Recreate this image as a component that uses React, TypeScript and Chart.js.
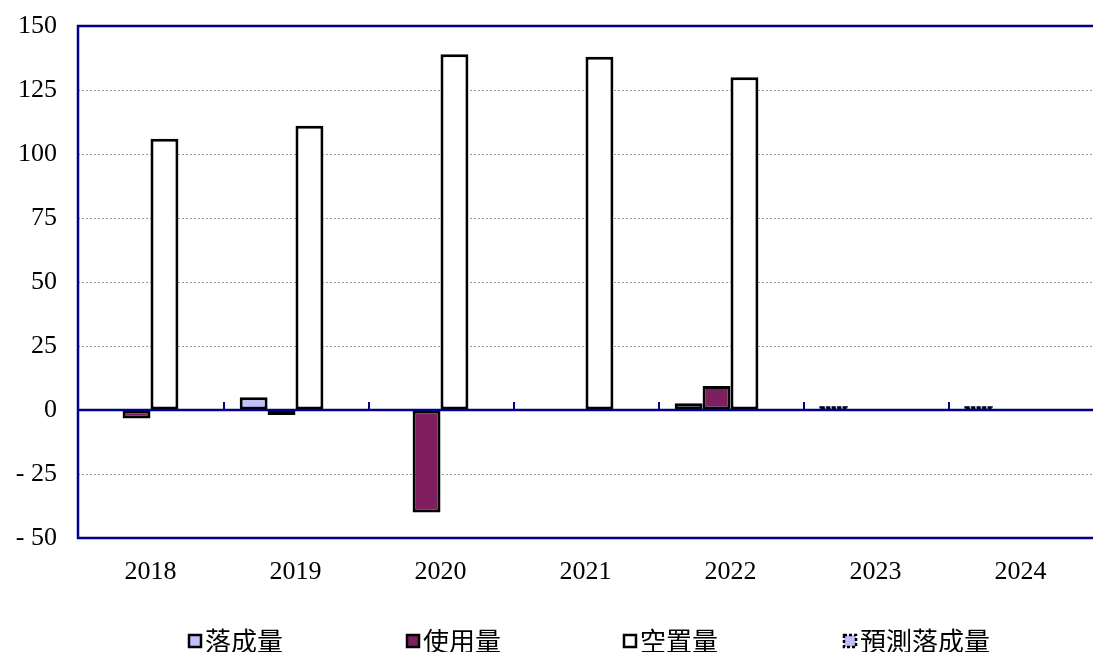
import React, { useEffect, useRef } from 'react';
import { Chart, registerables } from 'chart.js';

Chart.register(...registerables);

const categories = ['2018', '2019', '2020', '2021', '2022', '2023', '2024'];
const completions = [null, 5, null, null, 2.6, null, null];
const absorption = [-3.3, -2, -40, null, 9.4, null, null];
const vacancy = [106, 111, 139, 138, 130, null, null];
const forecastCompletions = [null, null, null, null, null, 1.4, 1.4];
const seriesNames = ['落成量', '使用量', '空置量', '預測落成量'];
const yMin = -50;
const yMax = 150;
const yStep = 25;

const NAVY = '#000088';
const LAVENDER = '#C0C0FF';
const PLUM = '#7F1F5F';
const SERIF = '"Liberation Serif", "Times New Roman", serif';
const CJK = '"Noto Sans CJK TC", "Noto Sans CJK SC", sans-serif';

const axesPlugin = {
  id: 'axesPlugin',
  afterDatasetsDraw(chart: any) {
    const { ctx, chartArea } = chart;
    const x = chart.scales.x;
    const y = chart.scales.y;
    const zeroY = y.getPixelForValue(0);
    ctx.save();
    // dashed outline for forecast bars
    const meta = chart.getDatasetMeta(3);
    ctx.strokeStyle = '#000';
    ctx.lineWidth = 2.5;
    ctx.setLineDash([4, 1.5]);
    meta.data.forEach((el: any, i: number) => {
      if (forecastCompletions[i] == null) return;
      const left = el.x - el.width / 2;
      const top = Math.min(el.y, el.base);
      const h = Math.abs(el.base - el.y);
      ctx.strokeRect(left + 1, top + 1, el.width - 2, Math.max(h - 1, 1));
    });
    ctx.setLineDash([]);
    ctx.strokeStyle = NAVY;
    ctx.lineWidth = 2.5;
    ctx.beginPath();
    ctx.moveTo(chartArea.left, zeroY);
    ctx.lineTo(chartArea.right, zeroY);
    ctx.moveTo(chartArea.left, chartArea.top);
    ctx.lineTo(chartArea.right, chartArea.top);
    ctx.moveTo(chartArea.left, chartArea.bottom);
    ctx.lineTo(chartArea.right, chartArea.bottom);
    ctx.moveTo(chartArea.left, chartArea.top - 1.25);
    ctx.lineTo(chartArea.left, chartArea.bottom + 1.25);
    ctx.stroke();
    ctx.lineWidth = 2;
    ctx.beginPath();
    for (let i = 1; i < categories.length; i++) {
      const bx = Math.round((x.getPixelForValue(i - 1) + x.getPixelForValue(i)) / 2) + 1;
      ctx.moveTo(bx, zeroY - 8);
      ctx.lineTo(bx, zeroY);
    }
    ctx.stroke();
    ctx.restore();
  },
};

const legendPlugin = {
  id: 'customLegend',
  afterDraw(chart: any) {
    const { ctx } = chart;
    const starts = [189, 407, 624, 844];
    const fills = [LAVENDER, PLUM, '#FFFFFF', LAVENDER];
    const cy = 641;
    ctx.save();
    ctx.font = `26px ${CJK}`;
    ctx.textBaseline = 'middle';
    ctx.fillStyle = '#000';
    seriesNames.forEach((name, i) => {
      const bx = starts[i];
      const size = 12;
      ctx.fillStyle = fills[i];
      ctx.fillRect(bx, cy - size / 2, size, size);
      ctx.strokeStyle = '#000';
      ctx.lineWidth = 2.5;
      ctx.setLineDash(i === 3 ? [3, 2] : []);
      ctx.strokeRect(bx, cy - size / 2, size, size);
      ctx.setLineDash([]);
      ctx.fillStyle = '#000';
      ctx.fillText(name, bx + size + 4, cy);
    });
    ctx.restore();
  },
};

export default function App() {
  const canvasRef = useRef<HTMLCanvasElement>(null);

  useEffect(() => {
    if (!canvasRef.current) return;
    const barCommon = {
      borderColor: '#000000',
      borderWidth: 3,
      borderSkipped: false as any,
      barPercentage: 1,
      categoryPercentage: 0.77,
    };
    const chart = new Chart(canvasRef.current, {
      type: 'bar',
      data: {
        labels: categories,
        datasets: [
          { label: seriesNames[0], data: completions, backgroundColor: LAVENDER, stack: 'a', ...barCommon },
          { label: seriesNames[1], data: absorption, backgroundColor: PLUM, stack: 'b', ...barCommon },
          { label: seriesNames[2], data: vacancy, backgroundColor: '#FFFFFF', stack: 'c', ...barCommon },
          { label: seriesNames[3], data: forecastCompletions, backgroundColor: LAVENDER, stack: 'a', ...barCommon, borderWidth: 0 },
          { label: '', data: categories.map(() => null), backgroundColor: 'transparent', stack: 'd', ...barCommon },
        ],
      },
      options: {
        animation: false,
        responsive: true,
        maintainAspectRatio: false,
        layout: { padding: { top: 26, left: 0, right: 0, bottom: 0 } },
        plugins: {
          legend: { display: false },
          tooltip: { enabled: false },
          title: { display: false },
        },
        scales: {
          x: {
            stacked: true,
            grid: { display: false, drawTicks: false },
            border: { display: false },
            ticks: {
              color: '#000',
              font: { family: SERIF, size: 26 },
              padding: 19,
              maxRotation: 0,
            },
            afterFit: (scale: any) => {
              scale.height = 114;
              scale.paddingLeft = 0;
              scale.paddingRight = 0;
            },
          },
          y: {
            stacked: true,
            min: yMin,
            max: yMax,
            border: { display: false, dash: [2, 2] },
            grid: {
              drawTicks: false,
              color: (c: any) => {
                const v = c.tick ? c.tick.value : 0;
                return v === 0 || v === yMin || v === yMax ? 'rgba(0,0,0,0)' : '#9a9a9a';
              },
              lineWidth: 1,
            },
            ticks: {
              stepSize: yStep,
              color: '#000',
              font: { family: SERIF, size: 26 },
              padding: 21,
              callback: (v: any) => (Number(v) < 0 ? '- ' + Math.abs(Number(v)) : String(v)),
            },
            afterFit: (scale: any) => {
              scale.width = 78;
              scale.paddingTop = 0;
              scale.paddingBottom = 0;
            },
          },
        },
      },
      plugins: [axesPlugin, legendPlugin],
    });
    return () => chart.destroy();
  }, []);

  return (
    <div style={{ position: 'fixed', left: 0, top: 0, width: 1093, height: 652, background: '#fff' }}>
      <canvas ref={canvasRef} />
    </div>
  );
}
